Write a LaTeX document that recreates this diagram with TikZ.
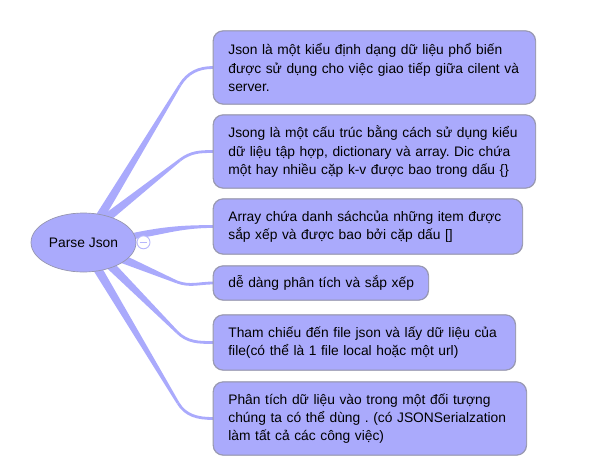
\documentclass[tikz,border=0pt]{standalone}
\usepackage{fontspec}
\setmainfont{Liberation Sans}
\usetikzlibrary{shapes.geometric,calc}
\definecolor{lav}{RGB}{170,170,252}
\definecolor{bordergray}{RGB}{150,150,175}
\newcommand\branchline[5]{%
  \fill[lav] ($(#1)!#5!90:(#2)$) -- ($(#2)!1.4pt!-90:(#1)$) -- ($(#2)!1.4pt!90:(#1)$) -- ($(#1)!#5!-90:(#2)$) -- cycle;
  \draw[lav, line width=2.8pt] (#2) to[out=#4,in=180] (#3.west);
}
\newcommand\oneline[1]{\mbox{#1}}
\tikzset{
  box/.style={draw=bordergray, line width=0.7pt, fill=lav, rounded corners=10pt, align=left,
    inner xsep=15pt, inner ysep=0pt, anchor=west, font=\fontsize{13.8}{18.3}\selectfont\frenchspacing},
}
\begin{document}
\begin{tikzpicture}[x=1pt,y=1pt]
\useasboundingbox (0,0) rectangle (596,475);
% boxes (positions)
\path
  node[box, text width=292pt, minimum height=73pt] (b1) at (213,407.5)
    {\oneline{Json là một kiểu định dạng dữ liệu phổ biến}\\\oneline{được sử dụng cho việc giao tiếp giữa cilent và}\\\oneline{server.}}
  node[box, text width=292pt, minimum height=73pt] (b2) at (213,323.5)
    {\oneline{Jsong là một cấu trúc bằng cách sử dụng kiểu}\\\oneline{dữ liệu tập hợp, dictionary và array. Dic chứa}\\\oneline{một hay nhiều cặp k-v được bao trong dấu \{\}}}
  node[box, text width=279pt, minimum height=55pt] (b3) at (213,248.5)
    {\oneline{Array chứa danh sáchcủa những item được}\\\oneline{sắp xếp và được bao bởi cặp dấu []}}
  node[box, text width=185pt, minimum height=34pt] (b4) at (213,192)
    {\oneline{dễ dàng phân tích và sắp xếp}}
  node[box, text width=272pt, minimum height=55pt] (b5) at (213,132.5)
    {\oneline{Tham chiếu đến file json và lấy dữ liệu của}\\\oneline{file(có thể là 1 file local hoặc một url)}}
  node[box, text width=283pt, minimum height=73pt] (b6) at (213,56.5)
    {\oneline{Phân tích dữ liệu vào trong một đối tượng}\\\oneline{chúng ta có thể dùng . (có JSONSerialzation}\\\oneline{làm tất cả các công việc)}};
% connector geometry
\coordinate (s1) at (98,255);  \coordinate (k1) at (180,390);
\coordinate (s2) at (104,255); \coordinate (k2) at (180,315);
\coordinate (s3) at (128,238);
\coordinate (s4) at (118,218); \coordinate (k4) at (177,193);
\coordinate (s5) at (108,212); \coordinate (k5) at (177,143);
\coordinate (s6) at (94,212);  \coordinate (k6) at (178,72);
\branchline{s1}{k1}{b1}{58}{4.5pt}
\branchline{s2}{k2}{b2}{37}{4.5pt}
\fill[lav] ($(s3)+(0,3)$) to[out=12,in=180] ($(b3.west)+(0,1.4)$) -- ($(b3.west)+(0,-1.4)$) to[out=180,in=8] ($(s3)+(0,-3)$) -- cycle;
\branchline{s4}{k4}{b4}{-20}{4.5pt}
\branchline{s5}{k5}{b5}{-45}{4.5pt}
\branchline{s6}{k6}{b6}{-59}{4.5pt}
% redraw box outlines on top of connectors
\foreach \b in {b1,b2,b3,b4,b5,b6}{
  \draw[bordergray, line width=0.7pt, rounded corners=10pt] (\b.south west) rectangle (\b.north east);
}
\node[ellipse, draw=bordergray, line width=0.7pt, fill=lav, minimum width=105pt, minimum height=59pt,
  inner sep=0pt, font=\fontsize{13.8}{16}\selectfont] (root) at (83.5,232.5) {Parse Json};
\node[circle, draw=lav!85, line width=0.9pt, fill=white, minimum size=13pt, inner sep=0pt] (tog) at (143.5,232.7) {};
\draw[lav!85, line width=1.3pt] ($(tog.west)+(3,0)$) -- ($(tog.east)+(-3,0)$);
\end{tikzpicture}
\end{document}
